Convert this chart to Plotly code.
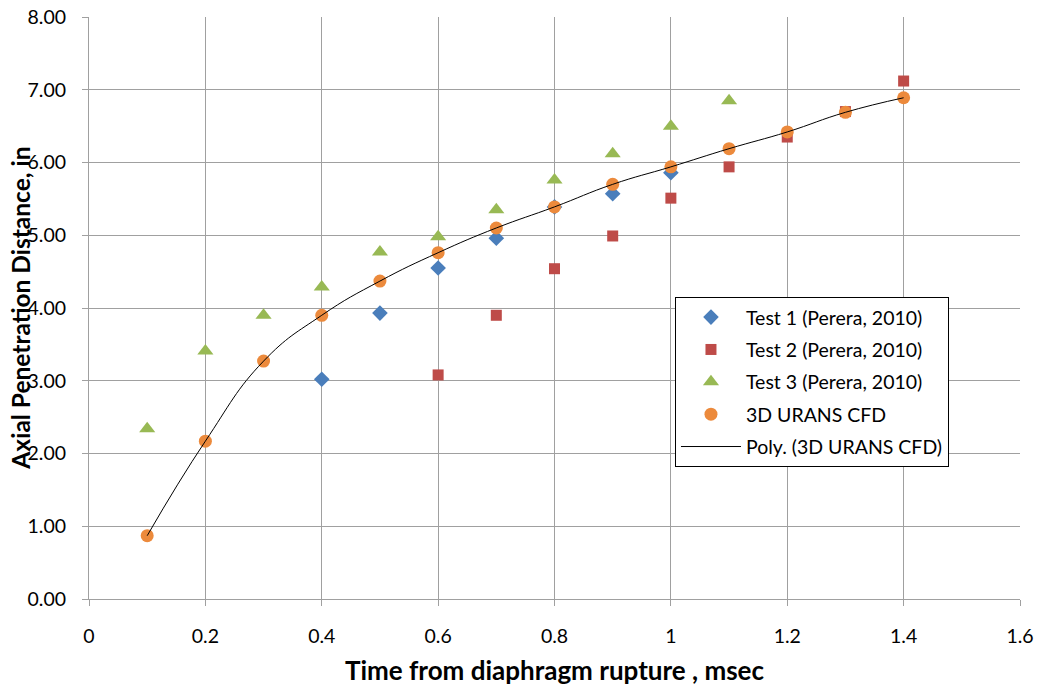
import plotly.graph_objects as go

# Data
test1_x = [0.4, 0.5, 0.6, 0.7, 0.8, 0.9, 1.0]
test1_y = [3.02, 3.93, 4.55, 4.96, 5.39, 5.57, 5.86]

test2_x = [0.6, 0.7, 0.8, 0.9, 1.0, 1.1, 1.2, 1.3, 1.4]
test2_y = [3.08, 3.90, 4.54, 4.99, 5.51, 5.94, 6.35, 6.70, 7.12]

test3_x = [0.1, 0.2, 0.3, 0.4, 0.5, 0.6, 0.7, 0.8, 0.9, 1.0, 1.1]
test3_y = [2.34, 3.41, 3.90, 4.29, 4.77, 4.98, 5.35, 5.76, 6.12, 6.50, 6.85]

cfd_x = [0.1, 0.2, 0.3, 0.4, 0.5, 0.6, 0.7, 0.8, 0.9, 1.0, 1.1, 1.2, 1.3, 1.4]
cfd_y = [0.87, 2.17, 3.27, 3.90, 4.37, 4.76, 5.10, 5.39, 5.70, 5.94, 6.19, 6.42, 6.69, 6.89]

x_ticks = [0, 0.2, 0.4, 0.6, 0.8, 1, 1.2, 1.4, 1.6]
y_ticks = [0, 1, 2, 3, 4, 5, 6, 7, 8]

FONT = "Lato, 'Open Sans', sans-serif"

fig = go.Figure()
fig.add_trace(go.Scatter(x=test1_x, y=test1_y, mode="markers", name="Test 1 (Perera, 2010)",
                         legendgroup="g1",
                         marker=dict(symbol="diamond", size=12, color="#4A7EBB")))
fig.add_trace(go.Scatter(x=test2_x, y=test2_y, mode="markers", name="Test 2 (Perera, 2010)",
                         legendgroup="g2",
                         marker=dict(symbol="square", size=11, color="#BE4B48")))
fig.add_trace(go.Scatter(x=test3_x, y=test3_y, mode="markers", name="Test 3 (Perera, 2010)",
                         legendgroup="g3",
                         marker=dict(symbol="triangle-up", size=14, color="#98B954")))
fig.add_trace(go.Scatter(x=cfd_x, y=cfd_y, mode="markers", name="3D URANS CFD",
                         legendgroup="g4",
                         marker=dict(symbol="circle", size=13, color="#EC8A3C")))
fig.add_trace(go.Scatter(x=cfd_x, y=cfd_y, mode="lines", name="Poly. (3D URANS CFD)",
                         legendgroup="g5",
                         line=dict(color="black", width=1, shape="spline", smoothing=1.3)))

axis_common = dict(
    showgrid=True, gridcolor="#A0A0A0", gridwidth=1,
    showline=True, linecolor="#A0A0A0", linewidth=1,
    ticks="outside", ticklen=6, tickcolor="#A0A0A0",
    tickfont=dict(family=FONT, size=19.5, color="black"),
    zeroline=False, automargin=False, ticklabeloverflow="allow",
)

fig.update_xaxes(range=[0, 1.6], tickvals=x_ticks, ticktext=[f"{v:g}" for v in x_ticks],
                 ticklabelstandoff=14,
                 title=dict(text="<b>Time from diaphragm rupture , msec</b>",
                            font=dict(family=FONT, size=26, color="black")),
                 **axis_common)
fig.update_yaxes(range=[0, 8], tickvals=y_ticks, ticktext=[f"{v:.2f}" for v in y_ticks],
                 ticklabelstandoff=12,
                 **axis_common)

fig.add_annotation(text="<b>Axial Penetration Distance, in</b>",
                   xref="paper", yref="paper", x=-0.0745, y=0.5,
                   xanchor="center", yanchor="middle", textangle=-90, showarrow=False,
                   font=dict(family=FONT, size=24.5, color="black"))

fig.update_layout(
    width=1037, height=698,
    margin=dict(l=89, r=17, t=17, b=99),
    plot_bgcolor="white", paper_bgcolor="white",
    showlegend=True,
    legend=dict(x=0.6294, y=0.519, xanchor="left", yanchor="top",
                bordercolor="black", borderwidth=1, bgcolor="white",
                font=dict(family=FONT, size=19.5, color="black"),
                itemwidth=60, tracegroupgap=4),
)

fig.write_html("out.html",
               config={"displayModeBar": False},
               post_script="document.body.style.margin='0';document.body.style.overflow='hidden';")
